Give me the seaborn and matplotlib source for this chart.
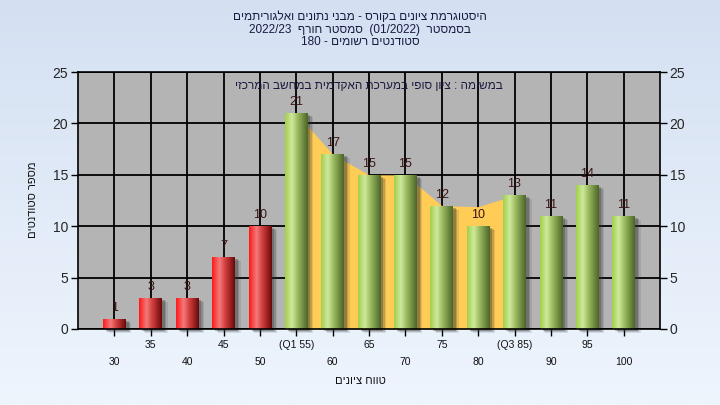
import re
import numpy as np
import matplotlib
matplotlib.use('Agg')
import matplotlib.pyplot as plt
from matplotlib.colors import LinearSegmentedColormap
from matplotlib.patches import Rectangle
import matplotlib.transforms as mtrans
import seaborn as sns

# data
grades = ['30', '35', '40', '45', '50', '55', '60', '65', '70', '75', '80', '85', '90', '95', '100']
tick_labels = ['30', '35', '40', '45', '50', '(Q1 55)', '60', '65', '70', '75', '80', '(Q3 85)', '90', '95', '100']
counts = [1, 3, 3, 7, 10, 21, 17, 15, 15, 12, 10, 13, 11, 14, 11]
failed = ['30', '35', '40', '45', '50']
iqr_grades = ['55', '60', '65', '70', '75', '80', '85']
iqr_band = [21, 17, 15, 15, 12, 11.9, 13]

title_lines = ['היסטוגרמת ציונים בקורס - מבני נתונים ואלגוריתמים',
               'בסמסטר  (01/2022)  סמסטר חורף  2022/23',
               'סטודנטים רשומים - 180']
note = 'במשימה : ציון סופי במערכת האקדמית במחשב המרכזי'
xlab = 'טווח ציונים'
ylab = 'מספר סטודנטים'


def rtl(s):
    # crude bidi: flip the line, keep number runs left-to-right, mirror brackets
    v = s[::-1]
    v = re.sub(r'[0-9A-Za-z][0-9A-Za-z/.]*', lambda m: m.group(0)[::-1], v)
    return v.translate(str.maketrans('()', ')('))


sns.set_style('ticks')
plt.rcParams['font.family'] = ['Liberation Sans', 'DejaVu Sans']

fig = plt.figure(figsize=(7.2, 4.05), dpi=100)

# light blue gradient background
bg = fig.add_axes([0, 0, 1, 1], zorder=-10)
bg.imshow(np.linspace(0, 1, 256).reshape(-1, 1),
          cmap=LinearSegmentedColormap.from_list('bg', ['#d4e0f2', '#eef5fd']),
          aspect='auto', extent=[0, 1, 0, 1])
bg.axis('off')

ax = fig.add_axes([78 / 720, 76 / 405, 582 / 720, 257 / 405])
ax.set_facecolor('#b4b4b4')

sns.barplot(x=grades, y=counts, order=grades, width=0.62, color='white',
            saturation=1, errorbar=None, ax=ax, zorder=2)

ax.set_xlim(-1, 15)
ax.set_ylim(0, 25)
ax.set_yticks(range(0, 26, 5))
ax.set_axisbelow(True)
ax.grid(True, color='black', linewidth=1.3)

# orange inter-quartile band
band_x = [grades.index(g) for g in iqr_grades]
ax.fill_between(band_x, iqr_band, 0, color='#ffcc55', linewidth=0, zorder=0.8)

red_cm = LinearSegmentedColormap.from_list(
    'r', [(0, '#ff1818'), (0.33, '#f27a7a'), (0.55, '#d94444'), (1, '#6a0808')])
green_cm = LinearSegmentedColormap.from_list(
    'g', [(0, '#a2d04a'), (0.3, '#cfe99c'), (0.55, '#9aba60'), (1, '#4c6626')])
grad = np.linspace(0, 1, 128).reshape(1, -1)

for g, p in zip(grades, ax.patches):
    x0 = p.get_x()
    w = p.get_width()
    h = p.get_height()
    # soft shadow on the right
    for k, a in [(0.16, 0.12), (0.12, 0.2), (0.08, 0.3)]:
        ax.add_patch(Rectangle((x0 + k, -k * 2.5), w, h, color='#303030', alpha=a,
                               linewidth=0, zorder=1.2, clip_on=False))
    cm = red_cm if g in failed else green_cm
    im = ax.imshow(grad, cmap=cm, aspect='auto', extent=[x0, x0 + w, 0, h], zorder=2.5)
    im.set_clip_path(p)
    p.set_facecolor('none')
    p.set_edgecolor('none')
    ax.annotate(str(int(h)), (x0 + w / 2, h), xytext=(0, 3.5), textcoords='offset points',
                ha='center', va='bottom', fontsize=9, color='#3a1414', zorder=4)

ax.set_xlim(-1, 15)
ax.set_ylim(0, 25)

for s in ax.spines.values():
    s.set_color('black')
    s.set_linewidth(1.2)

ax.tick_params(axis='y', which='both', left=True, right=True, labelleft=True, labelright=True,
               length=5, width=1, color='black', labelsize=10, pad=2)
ax.tick_params(axis='x', length=5, width=1, color='black')
ax.set_xticks(range(len(grades)))
ax.set_xticklabels([])
ax.set_xlabel('')
ax.set_ylabel('')

trans = mtrans.blended_transform_factory(ax.transData, ax.transAxes)
for i, lab in enumerate(tick_labels):
    yy = -0.062 if i % 2 else -0.128
    ax.text(i, yy, lab, transform=trans, ha='center', va='center', fontsize=7.5, color='#111111')

fig.text(360 / 720, 1 - 381 / 405, rtl(xlab), ha='center', va='center', fontsize=8, color='#111111')
fig.text(33 / 720, 1 - 200 / 405, rtl(ylab), ha='center', va='center', rotation=90,
         fontsize=8, color='#111111')

for i, line in enumerate(title_lines):
    fig.text(360 / 720, 1 - (17 + 12.5 * i) / 405, rtl(line), ha='center', va='center',
             fontsize=8.5, color='#1a1a40')

ax.text(0.5, 0.946, rtl(note), transform=ax.transAxes, ha='center', va='center',
        fontsize=8.5, color='#1a1a40', zorder=5)

fig.savefig('out.png', dpi=100)
